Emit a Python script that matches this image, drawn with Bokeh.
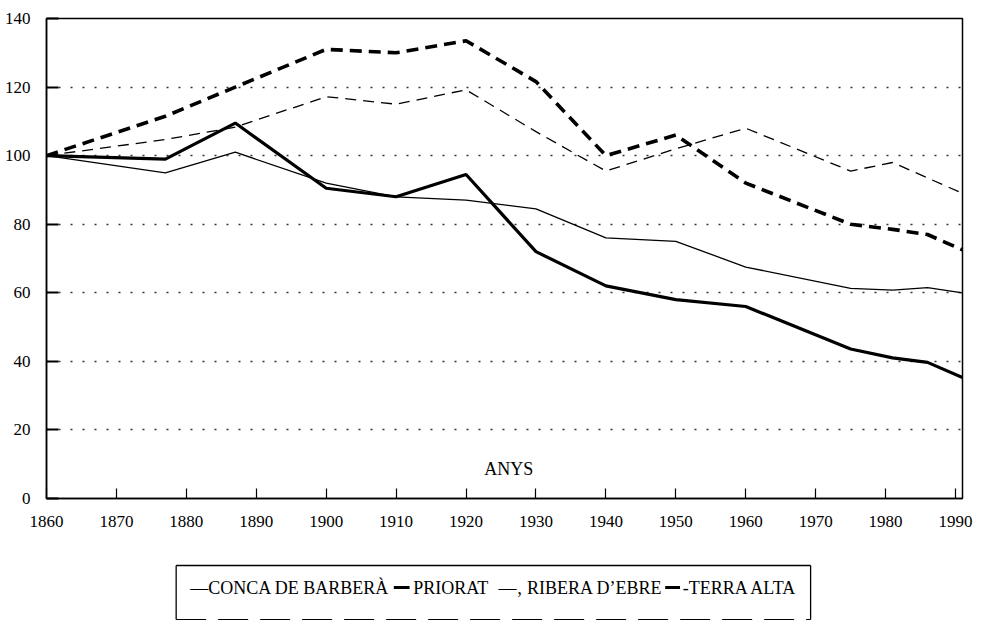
from bokeh.plotting import figure
from bokeh.models import Label, FixedTicker, Range1d
from bokeh.layouts import column
from bokeh.core.properties import value
from bokeh.embed import file_html
from bokeh.resources import INLINE

years = [1860, 1877, 1887, 1900, 1910, 1920, 1930, 1940, 1950, 1960, 1975, 1981, 1986, 1991]
conca = [100, 95, 101, 92, 88, 87, 84.5, 76, 75, 67.5, 61.3, 60.8, 61.5, 60]
priorat = [100, 99, 109.5, 90.5, 88, 94.5, 72, 62, 58, 56, 43.6, 41, 39.7, 35.3]
ribera = [100, 104.7, 108.3, 117.2, 115, 119.2, 107, 95.5, 102, 108, 95.5, 98, 93.5, 89]
terra = [100, 111.5, 120, 131, 130, 133.5, 121.6, 100, 106, 92, 80, 78.5, 77, 72.5]

x_ticks = list(range(1860, 1991, 10))
y_ticks = list(range(0, 141, 20))
legend_texts = ["—CONCA DE BARBERÀ", "PRIORAT", "—‚ RIBERA D’EBRE", "-TERRA ALTA"]
axis_title = "ANYS"

FONT = "Liberation Serif"
W = 989

# ---------------- main chart ----------------
p = figure(width=W, height=535, output_backend="svg", toolbar_location=None,
           x_range=Range1d(1860, 1991), y_range=Range1d(0, 140),
           min_border_left=46, min_border_right=27, min_border_top=18, min_border_bottom=37)
p.background_fill_color = "white"
p.border_fill_color = "white"
p.outline_line_color = "black"
p.outline_line_width = 1.5

p.xaxis.ticker = FixedTicker(ticks=x_ticks)
p.yaxis.ticker = FixedTicker(ticks=y_ticks)
for ax in (p.xaxis, p.yaxis):
    ax.major_tick_in = 10
    ax.major_tick_out = 0
    ax.minor_tick_line_color = None
    ax.axis_line_color = "black"
    ax.axis_line_width = 1.5
    ax.major_tick_line_color = "black"
    ax.major_tick_line_width = 1.2
    ax.major_label_text_font = FONT
    ax.major_label_text_font_size = "17px"
    ax.major_label_text_color = "black"
p.yaxis.major_tick_in = 12
p.yaxis.major_tick_line_width = 2
p.xaxis.major_label_standoff = 17
p.yaxis.major_label_standoff = 16

p.xgrid.visible = False
p.ygrid.grid_line_color = "black"
p.ygrid.grid_line_dash = "2 10"
p.ygrid.grid_line_width = 1.3
p.ygrid.grid_line_alpha = 0.8

p.line(years, conca, line_color="black", line_width=1.3)
p.line(years, priorat, line_color="black", line_width=3.2)
p.line(years, ribera, line_color="black", line_width=1.3, line_dash="11 7")
p.line(years, terra, line_color="black", line_width=3.6, line_dash="12 7")

p.add_layout(Label(x=1926.1, y=8.5, text=axis_title, text_align="center",
                   text_baseline="middle", text_font=FONT, text_font_size="18px",
                   text_color="black"))

# ---------------- legend strip (pixel coordinates) ----------------
top_px = 535
leg = figure(width=W, height=622 - top_px - 2, output_backend="svg", toolbar_location=None,
             x_range=Range1d(0, W), y_range=Range1d(620, top_px),
             x_axis_type=None, y_axis_type=None, min_border=0)
leg.outline_line_color = None
leg.xgrid.visible = False
leg.ygrid.visible = False
leg.background_fill_color = "white"
leg.border_fill_color = "white"

# box
leg.segment(x0=[140, 825, 140], y0=[565, 565, 565], x1=[825, 825, 140], y1=[565, 619, 619],
            line_color="black", line_width=1.3)
leg.segment(x0=[140], y0=[619], x1=[825], y1=[619], line_color="black", line_width=1.0,
            line_dash="30 12")

ty = 587
# legend samples (thick dashes for PRIORAT and TERRA ALTA)
leg.segment(x0=[375, 668], y0=[ty, ty], x1=[392, 684], y1=[ty, ty],
            line_color="black", line_width=3)
leg.text(x=[370, 665], y=[ty, ty], text=[legend_texts[0], legend_texts[2]],
         text_font=value(FONT), text_font_size="18px", text_color="black",
         text_align="right", text_baseline="middle")
leg.text(x=[396, 687], y=[ty, ty], text=[legend_texts[1], legend_texts[3]],
         text_font=value(FONT), text_font_size="18px", text_color="black",
         text_align="left", text_baseline="middle")

open("out.html", "w").write(file_html(column(p, leg, spacing=0), INLINE))
